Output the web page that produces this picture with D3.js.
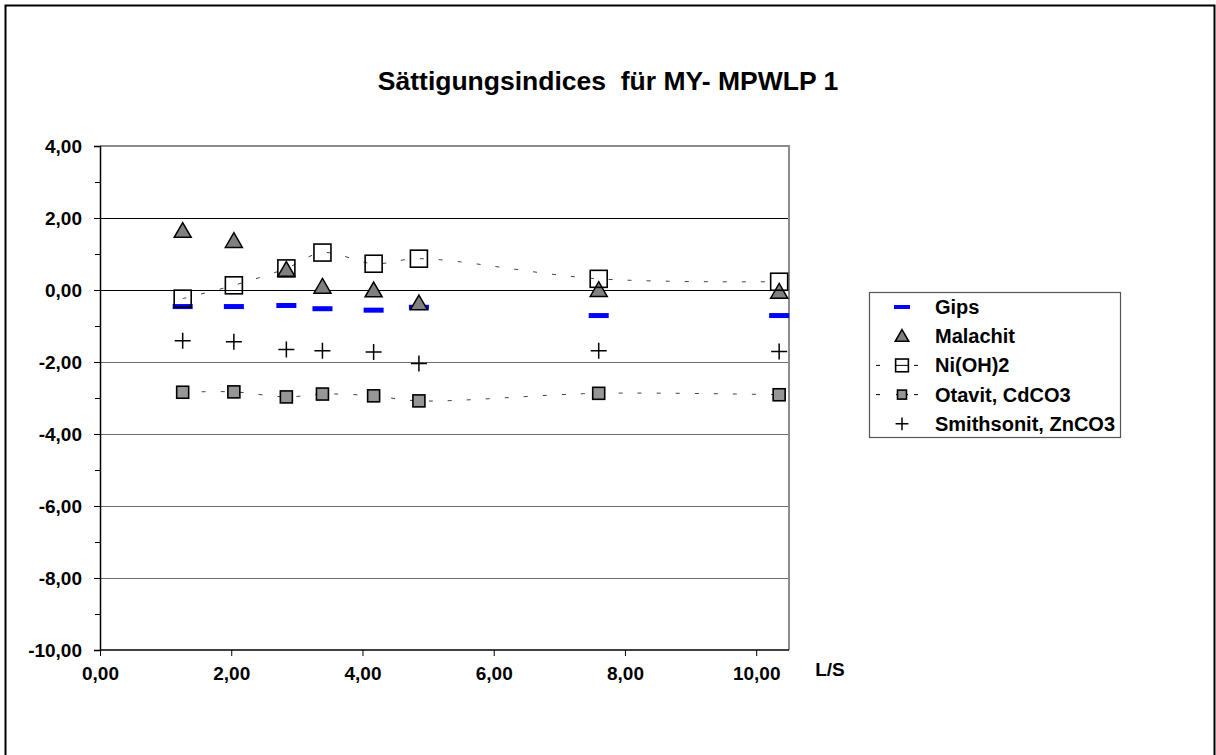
<!DOCTYPE html>
<html>
<head>
<meta charset="utf-8">
<script src="https://cdn.jsdelivr.net/npm/d3@7"></script>
<style>
  html, body { margin: 0; padding: 0; background: #fff; }
  svg { display: block; }
  text { font-family: "Liberation Sans", Arial, sans-serif; font-weight: bold; fill: #000; }
</style>
</head>
<body>
<svg id="chart" width="1216" height="755"></svg>
<script>
// L/S ratio of each sampling step
const ls = [1.26, 2.04, 2.84, 3.39, 4.17, 4.86, 7.60, 10.35];

// saturation indices per mineral phase
const gips       = [-0.46, -0.46, -0.43, -0.52, -0.56, -0.48, -0.71, -0.71];
const malachit   = [1.64, 1.36, 0.56, 0.09, -0.01, -0.37, 0.00, -0.05];
const niOH2      = [-0.24, 0.13, 0.60, 1.04, 0.73, 0.87, 0.31, 0.23];
const otavit     = [-2.84, -2.83, -2.97, -2.89, -2.94, -3.08, -2.87, -2.91];
const smithsonit = [-1.41, -1.44, -1.65, -1.69, -1.72, -2.04, -1.69, -1.71];

const seriesNames = ["Gips", "Malachit", "Ni(OH)2", "Otavit, CdCO3", "Smithsonit, ZnCO3"];
const yTicks = [4, 2, 0, -2, -4, -6, -8, -10];
const yMinorTicks = [3, 1, -1, -3, -5, -7, -9];
const xTicks = [0, 2, 4, 6, 8, 10];
// German decimal comma, plain hyphen as minus sign
const fmt = v => d3.format(".2f")(v).replace(".", ",").replace("\u2212", "-");

const svg = d3.select("#chart");

// outer chart frame
svg.append("rect")
  .attr("x", 5.5).attr("y", 5.5).attr("width", 1209).attr("height", 800)
  .attr("fill", "none").attr("stroke", "#000").attr("stroke-width", 2);

const x = d3.scaleLinear().domain([0, 10.5]).range([100, 789]);
const y = d3.scaleLinear().domain([-10, 4]).range([650, 146]);

// title
svg.append("text")
  .attr("x", 608).attr("y", 90)
  .attr("text-anchor", "middle")
  .style("font-size", "26.5px")
  .style("white-space", "pre")
  .text("Sättigungsindices  für MY- MPWLP 1");

// horizontal gridlines
svg.append("g").selectAll("line")
  .data(yTicks.filter(d => d > -10 && d < 4))
  .join("line")
  .attr("x1", x(0)).attr("x2", x(10.5))
  .attr("y1", d => Math.round(y(d)) + 0.5).attr("y2", d => Math.round(y(d)) + 0.5)
  .attr("stroke", d => d >= 0 ? "#000" : "#6e6e6e")
  .attr("stroke-width", 1.2);

// plot area frame (top and right)
svg.append("path")
  .attr("d", `M${x(0)},${y(4)}H${x(10.5)}V${y(-10)}`)
  .attr("fill", "none").attr("stroke", "#8c8c8c").attr("stroke-width", 2);

const tickFont = "19px";

// y axis
const yAxis = svg.append("g")
  .attr("transform", `translate(${x(0)},0)`)
  .call(d3.axisLeft(y).tickValues(yTicks).tickFormat(fmt).tickSize(6).tickPadding(12));
yAxis.select(".domain").attr("stroke", "#000").attr("stroke-width", 1.5);
yAxis.selectAll(".tick line").attr("stroke", "#000");
yAxis.selectAll(".tick text").style("font-size", tickFont)
  .style("font-family", "'Liberation Sans', Arial, sans-serif").style("font-weight", "bold");
svg.append("g")
  .attr("transform", `translate(${x(0)},0)`)
  .call(d3.axisLeft(y).tickValues(yMinorTicks).tickFormat("").tickSize(5))
  .call(g => g.select(".domain").remove())
  .selectAll("line").attr("stroke", "#000");

// x axis
const xAxis = svg.append("g")
  .attr("transform", `translate(0,${y(-10)})`)
  .call(d3.axisBottom(x).tickValues(xTicks).tickFormat(fmt).tickSize(6).tickPadding(11));
xAxis.select(".domain").attr("d", `M${x(0)},0H${x(10.5)}`).attr("stroke", "#000").attr("stroke-width", 1.5);
xAxis.selectAll(".tick line").attr("stroke", "#000");
xAxis.selectAll(".tick text").style("font-size", tickFont)
  .style("font-family", "'Liberation Sans', Arial, sans-serif").style("font-weight", "bold");

svg.append("text")
  .attr("x", 830).attr("y", 676)
  .attr("text-anchor", "middle")
  .style("font-size", tickFont)
  .text("L/S");

// smoothed dashed connecting lines
const line = d3.line().x(d => x(d[0])).y(d => y(d[1])).curve(d3.curveCatmullRom.alpha(0.5));
[niOH2, otavit].forEach(vals => {
  svg.append("path")
    .attr("d", line(ls.map((v, i) => [v, vals[i]])))
    .attr("fill", "none").attr("stroke", "#444").attr("stroke-width", 1)
    .attr("stroke-dasharray", "4,15");
});

// marker painters
const sym = {
  gips: (g, s) => g.append("rect").attr("x", -10 * s).attr("y", -2.5 * s).attr("width", 20 * s).attr("height", 5 * s).attr("fill", "#0000ff"),
  tri: (g, s) => g.append("path").attr("d", d3.symbol(d3.symbolTriangle, 125 * s * s)()).attr("transform", `translate(0,${1.5 * s})`)
    .attr("fill", "#808080").attr("stroke", "#000").attr("stroke-width", 1.5),
  open: (g, s) => g.append("rect").attr("x", -8.5 * s).attr("y", -8.5 * s).attr("width", 17 * s).attr("height", 17 * s)
    .attr("fill", "none").attr("stroke", "#000").attr("stroke-width", 1.6),
  gray: (g, s) => g.append("rect").attr("x", -6 * s).attr("y", -6 * s).attr("width", 12 * s).attr("height", 12 * s)
    .attr("fill", "#969696").attr("stroke", "#000").attr("stroke-width", 1.6),
  plus: (g, s) => g.append("path").attr("d", `M${-8 * s},0H${8 * s}M0,${-8 * s}V${8 * s}`)
    .attr("stroke", "#000").attr("stroke-width", 1.5)
};

const series = [
  { name: seriesNames[0], vals: gips, draw: sym.gips, dashed: false },
  { name: seriesNames[1], vals: malachit, draw: sym.tri, dashed: false },
  { name: seriesNames[2], vals: niOH2, draw: sym.open, dashed: true },
  { name: seriesNames[3], vals: otavit, draw: sym.gray, dashed: true },
  { name: seriesNames[4], vals: smithsonit, draw: sym.plus, dashed: false }
];

series.forEach(s => {
  const g = svg.append("g");
  s.vals.forEach((v, i) => {
    const m = g.append("g").attr("transform", `translate(${x(ls[i])},${y(v)})`);
    s.draw(m, 1);
  });
});

// legend
const lg = svg.append("g");
lg.append("rect").attr("x", 869.5).attr("y", 292.5).attr("width", 251).attr("height", 145)
  .attr("fill", "#fff").attr("stroke", "#555").attr("stroke-width", 1.2);
series.forEach((s, i) => {
  const cy = 307 + i * 29.2;
  if (s.dashed) {
    lg.append("path").attr("d", `M876,${cy}H880M914,${cy}H918M896,${cy}H908`)
      .attr("stroke", "#000").attr("stroke-width", 1);
  }
  const m = lg.append("g").attr("transform", `translate(902,${cy})`);
  s.draw(m, s.dashed ? 0.75 : 0.8);
  lg.append("text").attr("x", 935).attr("y", cy + 7)
    .style("font-size", "20px").text(s.name);
});
</script>
</body>
</html>
